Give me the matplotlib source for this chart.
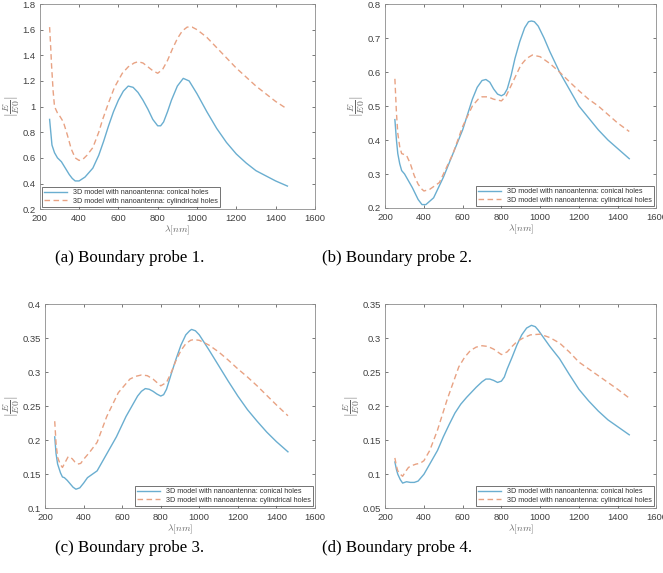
from matplotlib import pyplot as plt

# Wavelength samples (nm) and field ratios
wl_con_a = [250, 262, 275, 290, 310, 330, 350, 365, 380, 400, 430, 470, 500,
            525, 550, 575, 600, 625, 650, 675, 700, 725, 750, 775, 800, 815,
            830, 850, 870, 900, 930, 960, 1000, 1050, 1100, 1150, 1200, 1250,
            1300, 1350, 1400, 1460]
con_a = [0.90, 0.70, 0.64, 0.60, 0.57, 0.52, 0.47, 0.44, 0.42, 0.42, 0.45, 0.52,
         0.62, 0.73, 0.85, 0.96, 1.05, 1.12, 1.16, 1.15, 1.11, 1.05, 0.98, 0.90,
         0.85, 0.85, 0.88, 0.96, 1.05, 1.16, 1.22, 1.20, 1.10, 0.96, 0.83, 0.72,
         0.63, 0.56, 0.50, 0.46, 0.42, 0.38]
wl_cyl_a = [250, 255, 260, 268, 275, 290, 300, 320, 340, 360, 380, 400, 420,
            440, 470, 500, 520, 550, 580, 620, 650, 680, 700, 725, 750, 775,
            800, 825, 850, 875, 900, 925, 950, 975, 1000, 1050, 1100, 1150,
            1200, 1250, 1300, 1350, 1400, 1460]
cyl_a = [1.62, 1.48, 1.32, 1.12, 1.00, 0.95, 0.93, 0.88, 0.78, 0.67, 0.60, 0.58,
         0.59, 0.62, 0.68, 0.80, 0.90, 1.03, 1.15, 1.26, 1.31, 1.34, 1.35, 1.34,
         1.31, 1.28, 1.26, 1.29, 1.36, 1.45, 1.53, 1.59, 1.62, 1.62, 1.60, 1.54,
         1.46, 1.38, 1.30, 1.23, 1.16, 1.10, 1.04, 0.98]

wl_con_b = [250, 258, 265, 275, 285, 300, 320, 340, 370, 390, 410, 430, 450,
            475, 500, 550, 600, 650, 675, 700, 720, 740, 760, 780, 800, 815,
            830, 850, 870, 895, 920, 940, 955, 970, 990, 1020, 1050, 1100, 1150,
            1200, 1250, 1300, 1350, 1400, 1460]
con_b = [0.46, 0.40, 0.36, 0.33, 0.31, 0.30, 0.28, 0.26, 0.225, 0.21, 0.21, 0.22,
         0.23, 0.26, 0.29, 0.36, 0.43, 0.52, 0.555, 0.575, 0.578, 0.57, 0.55,
         0.535, 0.53, 0.535, 0.55, 0.59, 0.64, 0.69, 0.73, 0.748, 0.75, 0.748,
         0.735, 0.70, 0.66, 0.60, 0.55, 0.50, 0.465, 0.43, 0.40, 0.375, 0.345]
wl_cyl_b = [250, 258, 265, 275, 285, 300, 310, 330, 350, 370, 390, 400, 430,
            480, 550, 600, 650, 680, 700, 730, 760, 800, 825, 850, 875, 900,
            930, 960, 1000, 1050, 1100, 1150, 1200, 1250, 1300, 1350, 1400, 1460]
cyl_b = [0.58, 0.48, 0.42, 0.38, 0.36, 0.357, 0.355, 0.33, 0.295, 0.27, 0.255,
         0.25, 0.255, 0.275, 0.36, 0.44, 0.50, 0.52, 0.527, 0.527, 0.52, 0.515,
         0.53, 0.56, 0.59, 0.62, 0.64, 0.65, 0.645, 0.625, 0.60, 0.572, 0.545,
         0.52, 0.50, 0.475, 0.45, 0.425]

wl_con_c = [250, 257, 265, 280, 290, 300, 315, 330, 345, 360, 380, 400, 420, 445,
            470, 520, 570, 620, 680, 700, 720, 740, 760, 780, 800, 815, 830,
            855, 880, 905, 930, 950, 960, 980, 1000, 1050, 1100, 1150, 1200,
            1250, 1300, 1350, 1400, 1460]
con_c = [0.205, 0.18, 0.165, 0.152, 0.146, 0.145, 0.141, 0.136, 0.131, 0.128,
         0.13, 0.137, 0.145, 0.15, 0.155, 0.18, 0.205, 0.235, 0.265, 0.272,
         0.276, 0.275, 0.272, 0.268, 0.265, 0.267, 0.275, 0.298, 0.32, 0.34,
         0.355, 0.361, 0.363, 0.361, 0.355, 0.333, 0.31, 0.287, 0.265, 0.245,
         0.228, 0.212, 0.198, 0.183]
wl_cyl_c = [250, 257, 265, 278, 290, 305, 320, 340, 355, 370, 385, 400, 430,
            470, 520, 580, 640, 670, 700, 730, 760, 800, 830, 855, 880, 905,
            930, 955, 970, 1000, 1050, 1100, 1150, 1200, 1250, 1300, 1350, 1400,
            1460]
cyl_c = [0.228, 0.195, 0.175, 0.165, 0.16, 0.168, 0.176, 0.173, 0.168, 0.165,
         0.166, 0.172, 0.182, 0.197, 0.235, 0.27, 0.29, 0.294, 0.296, 0.295,
         0.29, 0.28, 0.285, 0.3, 0.318, 0.332, 0.342, 0.347, 0.348, 0.347,
         0.34, 0.33, 0.318, 0.305, 0.293, 0.28, 0.266, 0.252, 0.236]

wl_con_d = [250, 258, 265, 278, 290, 310, 330, 350, 370, 400, 430, 470, 500,
            530, 560, 590, 620, 650, 670, 700, 720, 740, 760, 780, 800, 815,
            830, 855, 880, 905, 930, 955, 975, 990, 1020, 1050, 1100, 1150,
            1200, 1250, 1300, 1350, 1400, 1460]
con_d = [0.118, 0.107, 0.10, 0.092, 0.087, 0.089, 0.088, 0.088, 0.09, 0.10,
         0.115, 0.135, 0.155, 0.173, 0.19, 0.203, 0.213, 0.222, 0.228, 0.236,
         0.24, 0.24, 0.238, 0.235, 0.237, 0.243, 0.255, 0.272, 0.29, 0.305,
         0.315, 0.319, 0.317, 0.312, 0.3, 0.288, 0.27, 0.247, 0.225, 0.208,
         0.193, 0.18, 0.17, 0.158]
wl_cyl_d = [250, 258, 265, 278, 290, 305, 320, 340, 360, 380, 400, 430, 470, 520,
            580, 610, 640, 670, 700, 730, 760, 800, 830, 855, 880, 910, 950,
            1000, 1050, 1100, 1150, 1200, 1250, 1300, 1350, 1400, 1460]
cyl_d = [0.124, 0.112, 0.105, 0.1, 0.097, 0.104, 0.11, 0.113, 0.115, 0.116,
         0.12, 0.135, 0.165, 0.21, 0.258, 0.272, 0.282, 0.287, 0.289, 0.288,
         0.284, 0.276, 0.28, 0.288, 0.295, 0.3, 0.305, 0.306, 0.301, 0.293,
         0.28, 0.265, 0.255, 0.245, 0.235, 0.225, 0.212]

captions = ['(a) Boundary probe 1.', '(b) Boundary probe 2.',
            '(c) Boundary probe 3.', '(d) Boundary probe 4.']
y_limits = [(0.2, 1.8), (0.2, 0.8), (0.1, 0.4), (0.05, 0.35)]
y_steps = [0.2, 0.1, 0.05, 0.05]
legend_locs = ['lower left', 'lower right', 'lower right', 'lower right']
x_ticks = [200, 400, 600, 800, 1000, 1200, 1400, 1600]

conical = [(wl_con_a, con_a), (wl_con_b, con_b), (wl_con_c, con_c),
           (wl_con_d, con_d)]
cylindrical = [(wl_cyl_a, cyl_a), (wl_cyl_b, cyl_b), (wl_cyl_c, cyl_c),
               (wl_cyl_d, cyl_d)]

# axes rectangles in figure fractions
positions = [[0.060, 0.635, 0.415, 0.358],
             [0.581, 0.637, 0.409, 0.356],
             [0.068, 0.113, 0.407, 0.356],
             [0.581, 0.113, 0.409, 0.356]]
caption_xy = [(0.195, 0.549), (0.599, 0.549), (0.195, 0.043), (0.599, 0.043)]

blue = '#6aaed0'
orange = '#e8a283'
grey = '#404040'

plt.rcParams['font.family'] = ['Liberation Sans', 'DejaVu Sans']
plt.rcParams['mathtext.fontset'] = 'cm'

fig = plt.figure(figsize=(6.63, 5.73), dpi=100)
for i in range(4):
    ax = fig.add_axes(positions[i])
    ax.plot(conical[i][0], conical[i][1], color=blue, lw=1.0,
            label='3D model with nanoantenna: conical holes')
    ax.plot(cylindrical[i][0], cylindrical[i][1], color=orange, lw=1.0,
            ls=(0, (4, 2.5)), label='3D model with nanoantenna: cylindrical holes')
    ax.set_xlim(200, 1600)
    ax.set_ylim(*y_limits[i])
    ax.set_xticks(x_ticks)
    lo, hi = y_limits[i]
    n = int(round((hi - lo) / y_steps[i]))
    yt = [round(lo + k * y_steps[i], 3) for k in range(n + 1)]
    ax.set_yticks(yt)
    ax.set_yticklabels(['{:g}'.format(v) for v in yt])
    ax.tick_params(direction='in', length=2.5, width=0.5, labelsize=6.8,
                   colors=grey, top=True, right=True)
    ax.tick_params(axis='x', pad=3.5)
    ax.tick_params(axis='y', pad=3)
    for sp in ax.spines.values():
        sp.set_color('#8c8c8c')
        sp.set_linewidth(0.6)
    ax.set_xlabel(r'$\lambda[nm]$', fontsize=7, color='#666666', labelpad=0.5)
    ax.set_ylabel(r'$|\frac{E}{E0}|$', fontsize=10, color='#666666', labelpad=0.5)
    leg = ax.legend(loc=legend_locs[i], fontsize=5.2, frameon=True,
                    fancybox=False, borderaxespad=0.3, handlelength=3.2,
                    borderpad=0.3, labelspacing=0.2)
    leg.get_frame().set_edgecolor('#333333')
    leg.get_frame().set_linewidth(0.6)
    for t in leg.get_texts():
        t.set_color('#333333')
    fig.text(caption_xy[i][0], caption_xy[i][1], captions[i], ha='center',
             va='center', fontsize=12.2, family='Liberation Serif')

fig.savefig('out.png', dpi=100)
